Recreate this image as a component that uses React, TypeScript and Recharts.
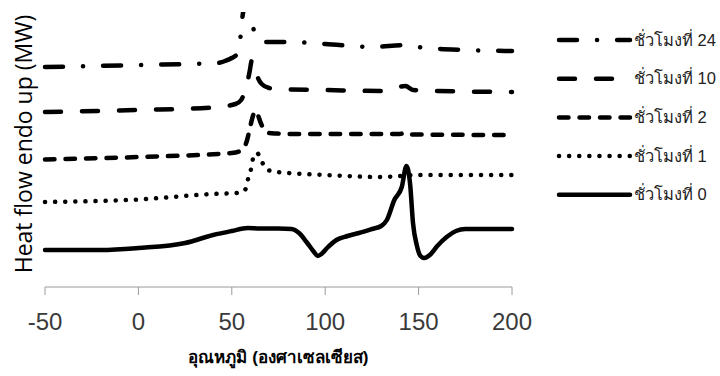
import { LineChart, Line, XAxis, YAxis } from 'recharts';

// temperature (°C) / heat flow (arbitrary, stacked)
const temp0 = [-50, -20, 0, 25, 40, 50, 58.5, 65, 75, 82, 86, 90, 94, 96, 98, 101, 106, 112, 118, 125, 130, 133, 137, 141, 143.5, 145.5, 147, 149, 151, 153, 156, 160, 165, 170, 175, 200];
const flow0 = [3.7, 3.7, 3.9, 4.4, 5.2, 5.6, 5.9, 5.85, 5.85, 5.8, 5.4, 4.5, 3.5, 3.1, 3.3, 3.9, 4.7, 5.1, 5.4, 5.8, 6.1, 6.7, 8.7, 10.0, 12.1, 10.2, 6.4, 4.2, 3.1, 2.9, 3.2, 4.1, 5.0, 5.6, 5.8, 5.8];

const temp1 = [-50, 0, 40, 52.8, 56.5, 57.6, 58.7, 60.3, 61.3, 62.4, 63.5, 65, 66.2, 69.4, 74.7, 80, 100, 130, 150, 200];
const flow1 = [8.5, 8.75, 9.3, 9.4, 9.6, 9.9, 10.8, 11.8, 12.8, 13.3, 13.4, 13.0, 12.5, 11.7, 11.5, 11.4, 11.2, 11.0, 11.2, 11.2];

const temp2 = [-50, 0, 50, 54.5, 56.5, 58.2, 59.7, 61.3, 62.4, 63.5, 65.5, 67.5, 70, 74, 80, 100, 140, 143, 146, 200];
const flow2 = [12.75, 13.0, 13.4, 13.6, 13.9, 14.7, 15.9, 17.1, 17.6, 17.4, 16.4, 15.7, 15.4, 15.35, 15.3, 15.3, 15.3, 15.45, 15.25, 15.2];

const temp10 = [-50, 0, 40, 52, 55, 56.5, 58, 59.5, 60.8, 62, 64, 66, 70, 74, 100, 130, 143, 147, 175, 200];
const flow10 = [17.5, 17.7, 17.95, 18.3, 18.7, 19.3, 20.2, 21.5, 22.7, 22.2, 20.9, 20.3, 19.9, 19.8, 19.7, 19.6, 20.1, 19.7, 19.55, 19.5];

const temp24 = [-50, 0, 42, 46.4, 50, 53.3, 54.9, 56, 58, 60, 61.3, 63, 66.7, 72, 80, 100, 125, 143, 150, 175, 200];
const flow24 = [22.0, 22.2, 22.4, 22.6, 22.9, 23.4, 25.4, 27.4, 28.2, 26.9, 26.0, 25.1, 24.5, 24.5, 24.5, 24.3, 24.0, 24.2, 24.0, 23.7, 23.6];

const xTicks = [-50, 0, 50, 100, 150, 200];

const zip = (t: number[], v: number[]) => t.map((x, i) => ({ t: x, v: v[i] }));

const series = [
  { name: 'ชั่วโมงที่ 24', data: zip(temp24, flow24), dash: '18 20 0.1 20' },
  { name: 'ชั่วโมงที่ 10', data: zip(temp10, flow10), dash: '16 21' },
  { name: 'ชั่วโมงที่ 2', data: zip(temp2, flow2), dash: '9.5 11' },
  { name: 'ชั่วโมงที่ 1', data: zip(temp1, flow1), dash: '0.1 10' },
  { name: 'ชั่วโมงที่ 0', data: zip(temp0, flow0), dash: undefined },
];

const font = '"Liberation Sans", Arial, sans-serif';

function YTitle() {
  return (
    <text
      x={23}
      y={144}
      transform="rotate(-90 23 144)"
      textAnchor="middle"
      dominantBaseline="central"
      fontSize={23}
      fontFamily='"Open Sans", sans-serif'
      fill="#000"
    >
      Heat flow endo up (MW)
    </text>
  );
}

function LegendBox() {
  return (
    <svg width={170} height={220} style={{ position: 'absolute', left: 550, top: 20 }}>
      {series.map((s, i) => {
        const y = 20 + i * 38.7;
        return (
          <g key={s.name}>
            <line
              x1={9}
              x2={80}
              y1={y}
              y2={y}
              stroke="#000"
              strokeWidth={4.5}
              strokeLinecap="round"
              strokeDasharray={s.dash}
            />
            <text x={84} y={y + 5.5} fontSize={16.5} fontFamily={font} fill="#222">
              {s.name}
            </text>
          </g>
        );
      })}
    </svg>
  );
}

export default function App() {
  return (
    <div style={{ position: 'absolute', left: 0, top: 0, width: 720, height: 376, background: '#fff' }}>
      <LineChart width={720} height={376} margin={{ top: 12, right: 208, bottom: 9, left: 0 }}>
        <XAxis
          dataKey="t"
          type="number"
          domain={[-50, 200]}
          ticks={xTicks}
          allowDuplicatedCategory={false}
          height={80}
          tickSize={8}
          tickMargin={18}
          stroke="#9a9a9a"
          tick={{ fontSize: 24, fill: '#3a3a3a', fontFamily: font }}
          label={{
            value: 'อุณหภูมิ (องศาเซลเซียส)',
            position: 'insideBottom',
            offset: 4,
            style: { fontSize: 17, fontWeight: 'bold', fill: '#000', fontFamily: font },
          }}
        />
        <YAxis
          type="number"
          domain={[0, 27.5]}
          allowDataOverflow
          width={45}
          tick={false}
          axisLine={false}
          tickLine={false}
          label={<YTitle />}
        />
        {series.map(s => (
          <Line
            key={s.name}
            data={s.data}
            dataKey="v"
            name={s.name}
            type="monotone"
            stroke="#000"
            strokeWidth={4.5}
            strokeLinecap="round"
            strokeDasharray={s.dash}
            dot={false}
            activeDot={false}
            isAnimationActive={false}
          />
        ))}
      </LineChart>
      <LegendBox />
    </div>
  );
}
